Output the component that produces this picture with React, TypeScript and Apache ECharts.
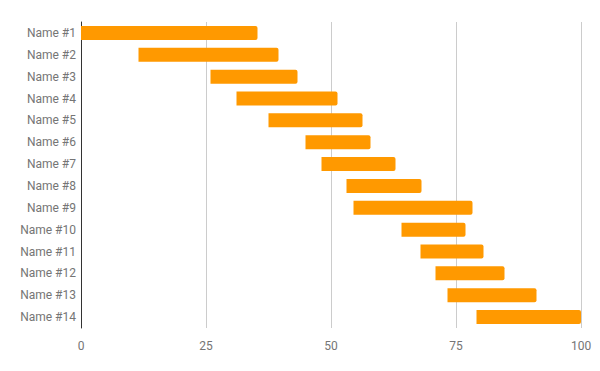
import React, { useEffect, useRef } from "react";
import * as echarts from "echarts";

const categories = [
  "Name #1", "Name #2", "Name #3", "Name #4", "Name #5", "Name #6", "Name #7",
  "Name #8", "Name #9", "Name #10", "Name #11", "Name #12", "Name #13", "Name #14",
];
const startValues = [0, 11.5, 25.9, 31.1, 37.5, 44.9, 48.1, 53.1, 54.5, 64.1, 67.9, 70.9, 73.3, 79.1];
const endValues = [35.3, 39.5, 43.3, 51.3, 56.3, 57.9, 62.9, 68.1, 78.3, 76.9, 80.5, 84.7, 91.1, 100];
const xTicks = [0, 25, 50, 75, 100];

export default function App() {
  const ref = useRef<HTMLDivElement>(null);
  useEffect(() => {
    if (!ref.current) return;
    const chart = echarts.init(ref.current, undefined, { renderer: "svg" });
    const durations = endValues.map((e, i) => +(e - startValues[i]).toFixed(2));
    chart.setOption({
      animation: false,
      grid: { left: 81, right: 19, top: 22, height: 306 },
      xAxis: {
        type: "value",
        min: xTicks[0],
        max: xTicks[xTicks.length - 1],
        interval: 25,
        axisLine: { show: false },
        axisTick: { show: false },
        splitLine: { show: true, lineStyle: { color: "#cccccc", width: 1 } },
        axisLabel: { color: "#757575", fontFamily: "Roboto", fontSize: 12, margin: 12 },
      },
      yAxis: {
        type: "category",
        data: categories,
        inverse: true,
        axisLine: { show: true, lineStyle: { color: "#333333", width: 1 } },
        axisTick: { show: false },
        axisLabel: { color: "#757575", fontFamily: "Roboto", fontSize: 12, margin: 5 },
      },
      series: [
        {
          type: "bar",
          stack: "g",
          data: startValues,
          itemStyle: { color: "transparent" },
          barWidth: 14,
          silent: true,
        },
        {
          type: "bar",
          stack: "g",
          data: durations,
          barWidth: 14,
          itemStyle: { color: "#ff9900", borderRadius: [0, 2, 2, 0] },
        },
      ],
    });
    return () => chart.dispose();
  }, []);
  return <div ref={ref} style={{ width: 600, height: 371, margin: -8 }} />;
}
